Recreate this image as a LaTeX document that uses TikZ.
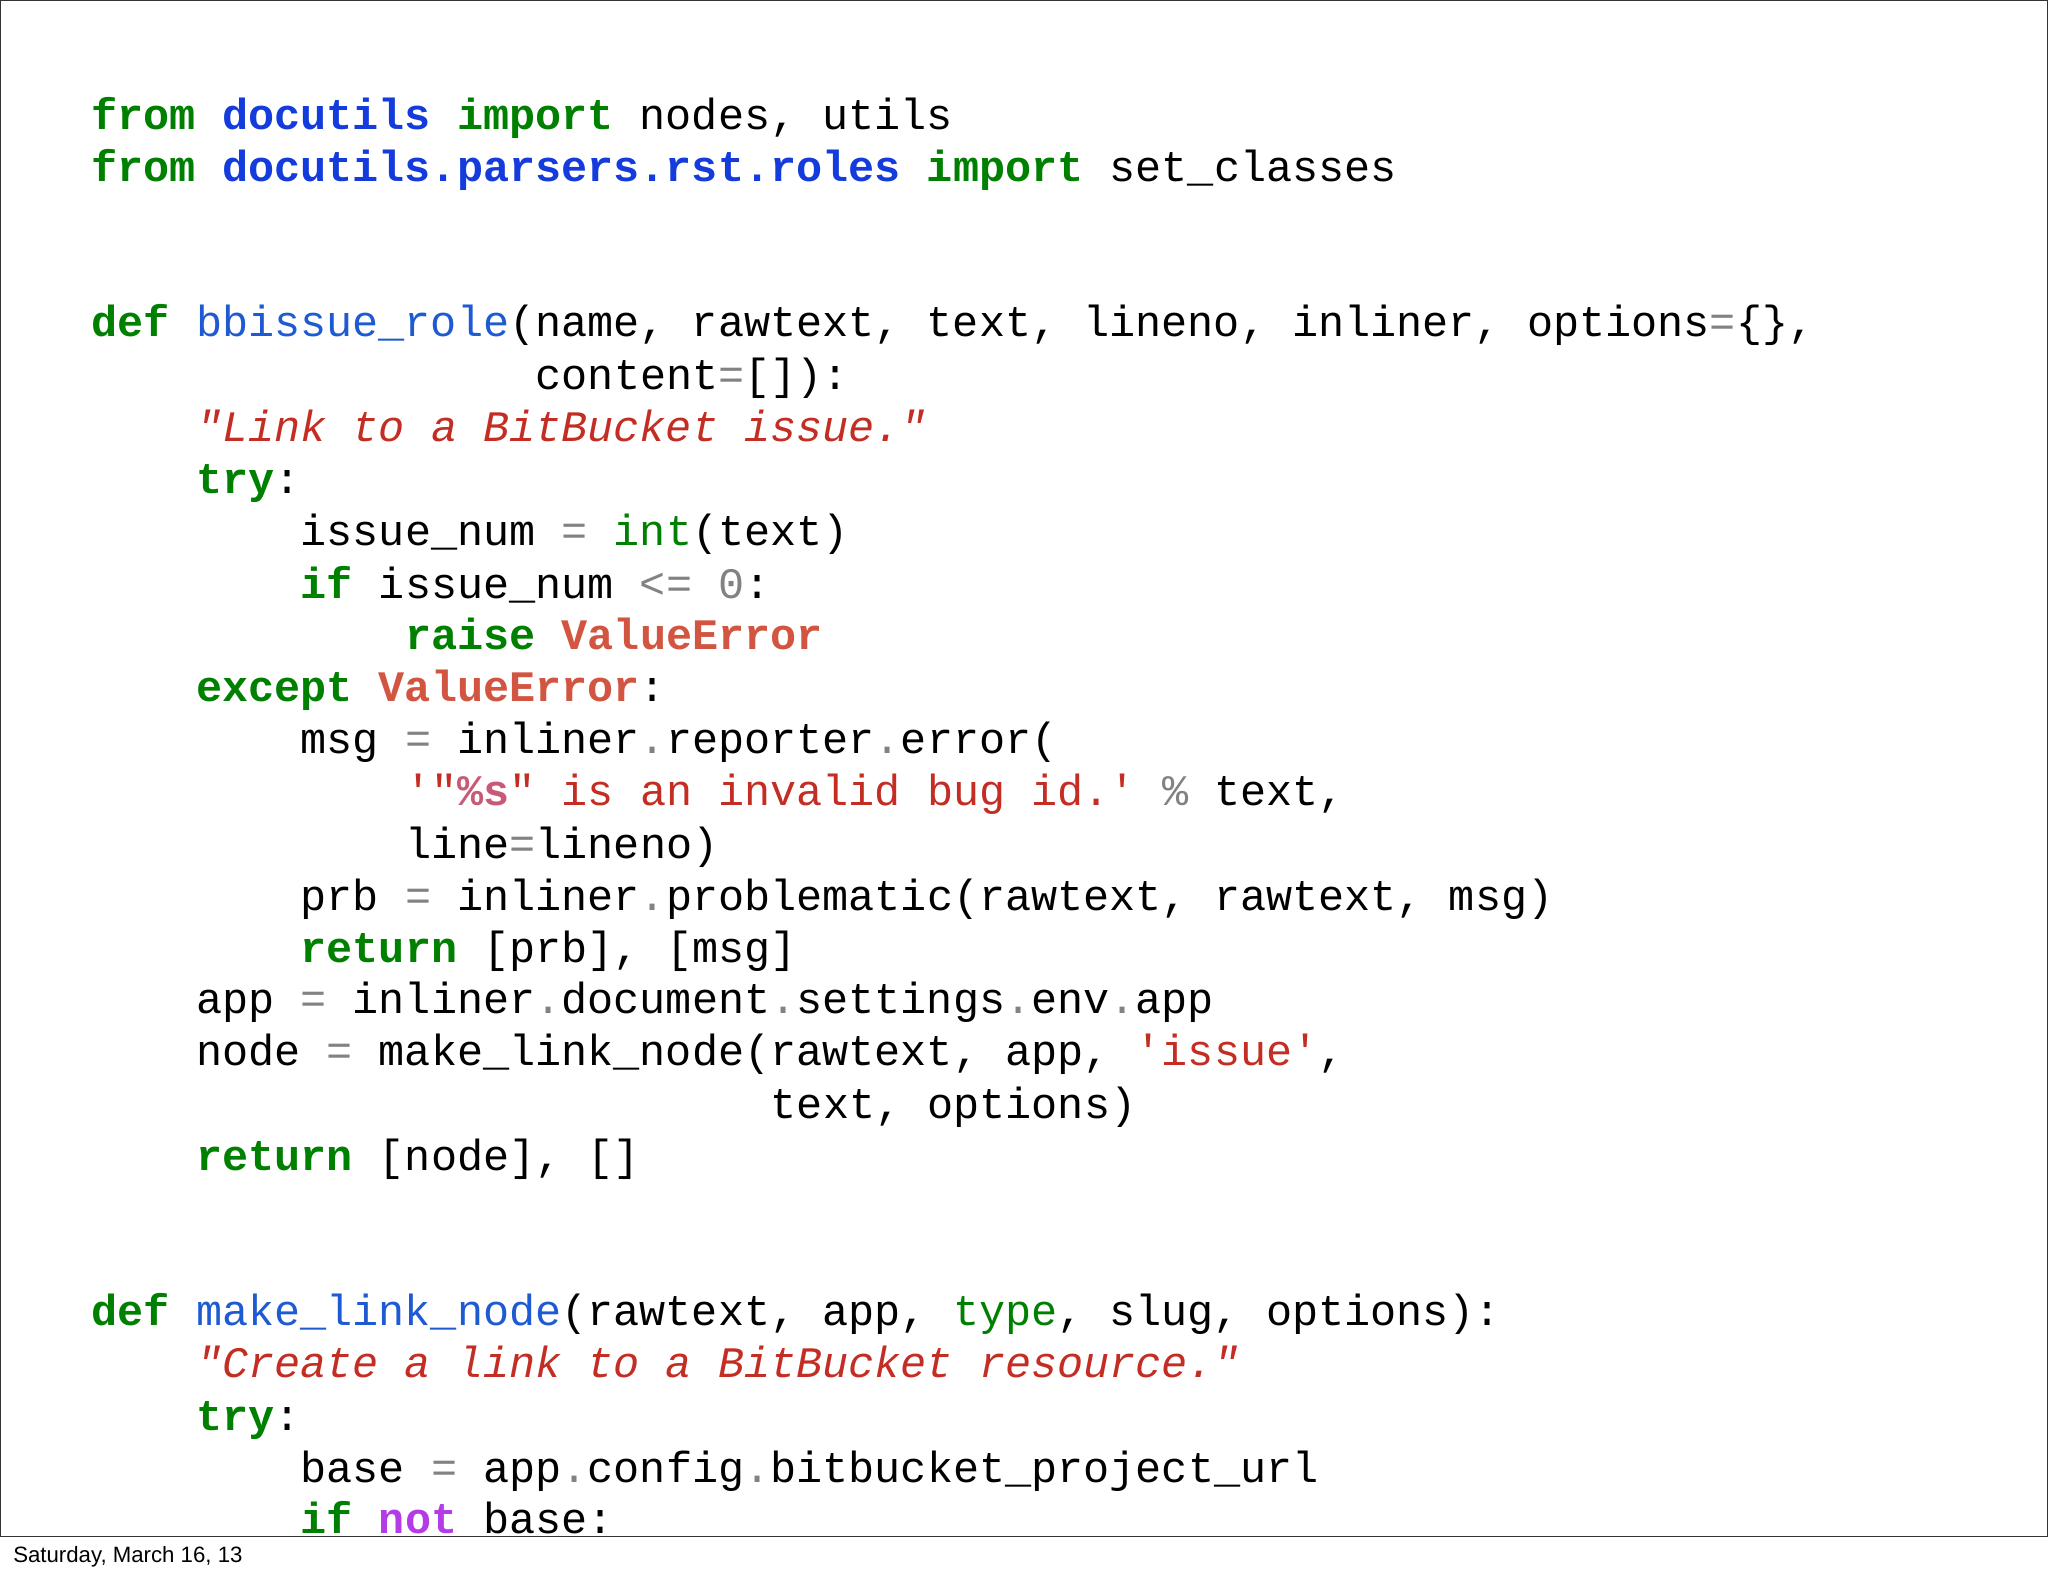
\documentclass[tikz,border=0pt]{standalone}
\usepackage{fontspec}
\setmonofont{Liberation Mono}
\setsansfont{Liberation Sans}
\definecolor{kwc}{RGB}{0,128,0}
\definecolor{mbc}{RGB}{20,60,220}
\definecolor{fnc}{RGB}{30,90,210}
\definecolor{stc}{RGB}{195,45,35}
\definecolor{erc}{RGB}{210,85,65}
\definecolor{opc}{RGB}{130,130,130}
\definecolor{ntc}{RGB}{180,60,230}
\definecolor{psc}{RGB}{200,90,120}
\newcommand\kw[1]{\textcolor{kwc}{\bfseries #1}}
\newcommand\mb[1]{\textcolor{mbc}{\bfseries #1}}
\newcommand\fn[1]{\textcolor{fnc}{#1}}
\newcommand\st[1]{\textcolor{stc}{\itshape #1}}
\newcommand\sr[1]{\textcolor{stc}{#1}}
\newcommand\er[1]{\textcolor{erc}{\bfseries #1}}
\newcommand\op[1]{\textcolor{opc}{#1}}
\newcommand\gr[1]{\textcolor{kwc}{#1}}
\newcommand\nt[1]{\textcolor{ntc}{\bfseries #1}}
\newcommand\ps[1]{\textcolor{psc}{\bfseries #1}}
\begin{document}
\begin{tikzpicture}[x=1pt,y=-1pt,
  ln/.style={anchor=base west,inner sep=0pt,font=\ttfamily\fontsize{33.3}{36}\selectfont}]
\useasboundingbox (0,0) rectangle (1568,1206);
\fill[white] (0,0) rectangle (1568,1206);
\begin{scope}
\clip (0,0) rectangle (1568,1176);
\node[ln] (l1) at (70,99) {\kw{from} \mb{docutils} \kw{import} nodes, utils};
\node[ln] (l2) at (70,139) {\kw{from} \mb{docutils.parsers.rst.roles} \kw{import} set\_classes};
\node[ln] (l3) at (70,258) {\kw{def} \fn{bbissue\_role}(name, rawtext, text, lineno, inliner, options\op{=}\{\},};
\node[ln] (l4) at (410,298) {content\op{=}[]):};
\node[ln] (l5) at (150,338) {\st{"Link to a BitBucket issue."}};
\node[ln] (l6) at (150,378) {\kw{try}:};
\node[ln] (l7) at (230,418) {issue\_num \op{=} \gr{int}(text)};
\node[ln] (l8) at (230,458) {\kw{if} issue\_num \op{<=} \op{0}:};
\node[ln] (l9) at (310,497) {\kw{raise} \er{ValueError}};
\node[ln] (l10) at (150,537) {\kw{except} \er{ValueError}:};
\node[ln] (l11) at (230,577) {msg \op{=} inliner\op{.}reporter\op{.}error(};
\node[ln] (l12) at (310,617) {\sr{'"}\ps{\%s}\sr{" is an invalid bug id.'} \op{\%} text,};
\node[ln] (l13) at (310,657) {line\op{=}lineno)};
\node[ln] (l14) at (230,697) {prb \op{=} inliner\op{.}problematic(rawtext, rawtext, msg)};
\node[ln] (l15) at (230,737) {\kw{return} [prb], [msg]};
\node[ln] (l16) at (150,776) {app \op{=} inliner\op{.}document\op{.}settings\op{.}env\op{.}app};
\node[ln] (l17) at (150,816) {node \op{=} make\_link\_node(rawtext, app, \sr{'issue'},};
\node[ln] (l18) at (590,856) {text, options)};
\node[ln] (l19) at (150,896) {\kw{return} [node], []};
\node[ln] (l20) at (70,1015) {\kw{def} \fn{make\_link\_node}(rawtext, app, \gr{type}, slug, options):};
\node[ln] (l21) at (150,1055) {\st{"Create a link to a BitBucket resource."}};
\node[ln] (l22) at (150,1095) {\kw{try}:};
\node[ln] (l23) at (230,1135) {base \op{=} app\op{.}config\op{.}bitbucket\_project\_url};
\node[ln] (l24) at (230,1174) {\kw{if} \nt{not} base:};
\end{scope}
\draw[line width=1pt,black!80] (0.5,0.5) rectangle (1567.5,1176.5);
\node[anchor=base west,inner sep=0pt,font=\sffamily\fontsize{17}{20}\selectfont] (foot) at (10,1196) {Saturday, March 16, 13};
\end{tikzpicture}
\end{document}
